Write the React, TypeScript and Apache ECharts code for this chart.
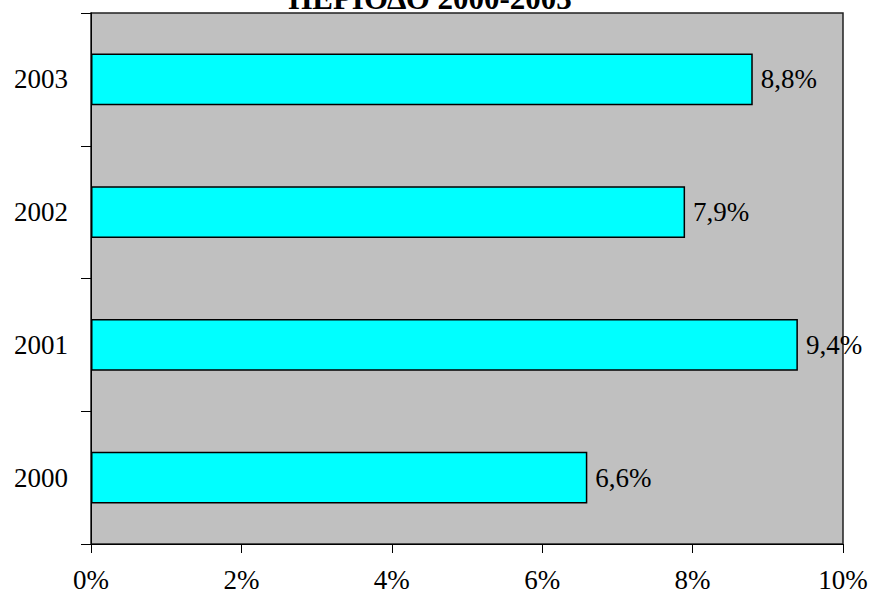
import React, { useEffect, useRef } from "react";
import * as echarts from "echarts";

const categories = ["2000", "2001", "2002", "2003"];
const values = [6.6, 9.4, 7.9, 8.8];
const xTicks = [0, 2, 4, 6, 8, 10];
const titleText = "ΠΕΡΙΟΔΟ 2000-2003";

const FONT = "Liberation Serif";

export default function App() {
  const ref = useRef<HTMLDivElement>(null);
  useEffect(() => {
    const chart = echarts.init(ref.current!, null, { renderer: "svg" });
    chart.setOption({
      animation: false,
      backgroundColor: "#ffffff",
      graphic: [
        {
          type: "text",
          x: 430,
          y: 14,
          z: 10,
          style: {
            text: titleText,
            fontFamily: FONT,
            fontSize: 31,
            fontWeight: "bold",
            fill: "#000",
            textAlign: "center",
            textVerticalAlign: "bottom",
          },
        },
      ],
      grid: {
        left: 91,
        right: 29,
        top: 13,
        bottom: 61,
        show: true,
        backgroundColor: "#c0c0c0",
        borderColor: "#202020",
        borderWidth: 1.5,
      },
      xAxis: {
        type: "value",
        min: 0,
        max: 10,
        interval: 2,
        splitLine: { show: false },
        axisLine: { show: true, lineStyle: { color: "#000", width: 1 } },
        axisTick: { show: true, length: 9, lineStyle: { color: "#000" } },
        axisLabel: {
          margin: 22,
          fontFamily: FONT,
          fontSize: 27,
          color: "#000",
          formatter: (v: number) => (xTicks.includes(v) ? v + "%" : ""),
        },
      },
      yAxis: {
        type: "category",
        data: categories,
        axisLine: { show: true, lineStyle: { color: "#000", width: 1 } },
        axisTick: { show: true, length: 10, lineStyle: { color: "#000" } },
        axisLabel: {
          margin: 23,
          fontFamily: FONT,
          fontSize: 27,
          color: "#000",
        },
      },
      series: [
        {
          type: "bar",
          data: values,
          barCategoryGap: "61%",
          itemStyle: { color: "#00ffff", borderColor: "#000", borderWidth: 1.5 },
          label: {
            show: true,
            position: "right",
            distance: 8,
            fontFamily: FONT,
            fontSize: 27,
            color: "#000",
            formatter: (p: any) => String(p.value).replace(".", ",") + "%",
          },
        },
      ],
    });
    return () => chart.dispose();
  }, []);
  return <div ref={ref} style={{ width: 872, height: 605, position: "absolute", left: 0, top: 0 }} />;
}
